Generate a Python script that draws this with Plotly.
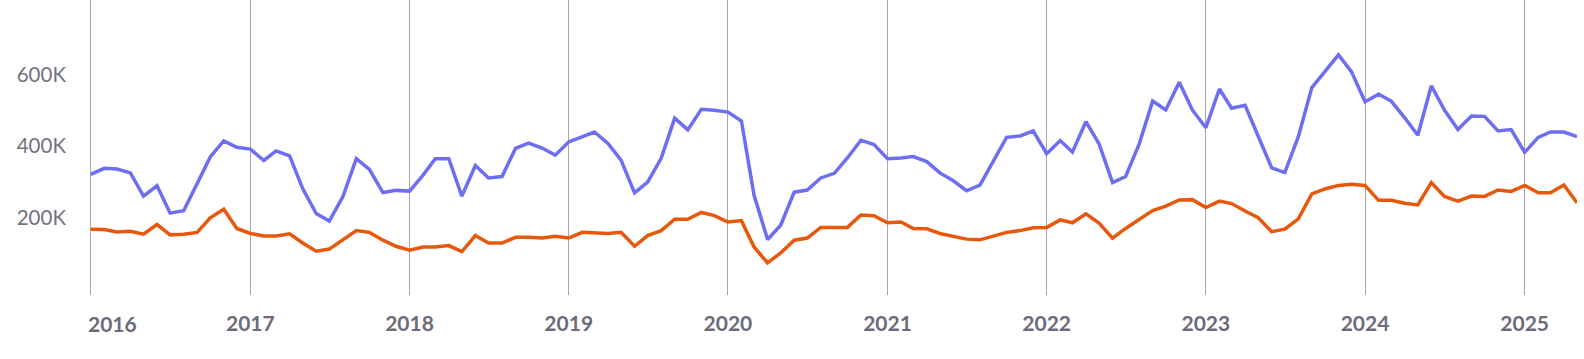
import plotly.graph_objects as go
import pandas as pd

months = pd.date_range("2016-01-01", "2025-05-01", freq="MS")

series_a = [
    321, 338, 336, 325, 260, 289, 212, 219, 295, 370, 415, 397,
    392, 360, 387, 373, 281, 211, 190, 258, 365, 335, 270, 276,
    274, 319, 365, 365, 260, 346, 311, 315, 394, 409, 395, 375,
    412, 427, 440, 408, 361, 269, 299, 366, 479, 446, 504, 501,
    496, 471, 262, 138, 178, 271, 277, 311, 324, 367, 417, 405,
    365, 367, 371, 357, 325, 303, 275, 291, 361, 425, 429, 443,
    379, 416, 384, 469, 407, 298, 315, 406, 527, 502, 580, 502,
    452, 561, 507, 515, 428, 339, 326, 427, 565, 612, 657, 609,
    525, 546, 527, 480, 431, 570, 502, 447, 485, 484, 443, 447,
    383, 425, 440, 440, 427,
]

series_b = [
    167, 166, 159, 161, 153, 180, 151, 153, 158, 199, 223, 169,
    155, 148, 148, 154, 128, 105, 111, 136, 163, 158, 136, 119,
    108, 117, 117, 121, 104, 149, 128, 128, 144, 144, 142, 147,
    142, 158, 156, 155, 158, 119, 149, 163, 195, 195, 214, 205,
    187, 191, 117, 72, 100, 136, 142, 172, 172, 172, 207, 205,
    185, 187, 169, 168, 155, 147, 139, 137, 147, 158, 163, 171,
    172, 193, 185, 210, 184, 142, 169, 195, 219, 232, 249, 250,
    228, 246, 239, 218, 199, 160, 167, 196, 266, 280, 290, 293,
    290, 248, 248, 240, 235, 298, 259, 246, 260, 259, 277, 273,
    290, 269, 269, 291, 241,
]

y_tickvals = [200000, 400000, 600000]
y_ticktext = ["200K", "400K", "600K"]
years = list(range(2016, 2026))
x_tickvals = [f"{y}-01-01" for y in years]
# first label is drawn as an annotation (kept inside the plot edge)
x_ticktext = [""] + [str(y) for y in years[1:]]

label_color = "#6b6b7a"

fig = go.Figure()
fig.add_trace(go.Scatter(
    x=months, y=[v * 1000 for v in series_a], mode="lines",
    line=dict(color="#6e6ef2", width=3.5), showlegend=False,
))
fig.add_trace(go.Scatter(
    x=months, y=[v * 1000 for v in series_b], mode="lines",
    line=dict(color="#e8580c", width=3.5), showlegend=False,
))

fig.add_annotation(
    x=x_tickvals[0], xref="x", xanchor="left", xshift=-5,
    y=0, yref="paper", yanchor="middle", yshift=-28,
    text=str(years[0]), showarrow=False,
    font=dict(family="Lato", size=21, color=label_color, weight="bold"),
)

fig.update_layout(
    width=1584, height=359,
    margin=dict(l=89, r=7, t=0, b=64),
    paper_bgcolor="white", plot_bgcolor="white",
    font=dict(family="Lato", size=20, color="#6e6e7e"),
    xaxis=dict(
        type="date",
        range=["2015-12-28", "2025-05-01"],
        tickvals=x_tickvals, ticktext=x_ticktext,
        showgrid=True, gridcolor="#a8a8a8", gridwidth=1,
        showline=False, zeroline=False,
        ticks="", ticklabelstandoff=14,
        tickfont=dict(family="Lato", size=21, color=label_color, weight="bold"),
    ),
    yaxis=dict(
        range=[-18000, 811000],
        tickvals=y_tickvals, ticktext=y_ticktext,
        showgrid=False, zeroline=False, showline=False,
        ticks="", ticklabelstandoff=22,
        tickfont=dict(family="Lato", size=20.5, color="#72727f"),
    ),
)

fig.write_html(
    "out.html",
    config={"displayModeBar": False},
    post_script="document.body.style.margin='0';",
)
